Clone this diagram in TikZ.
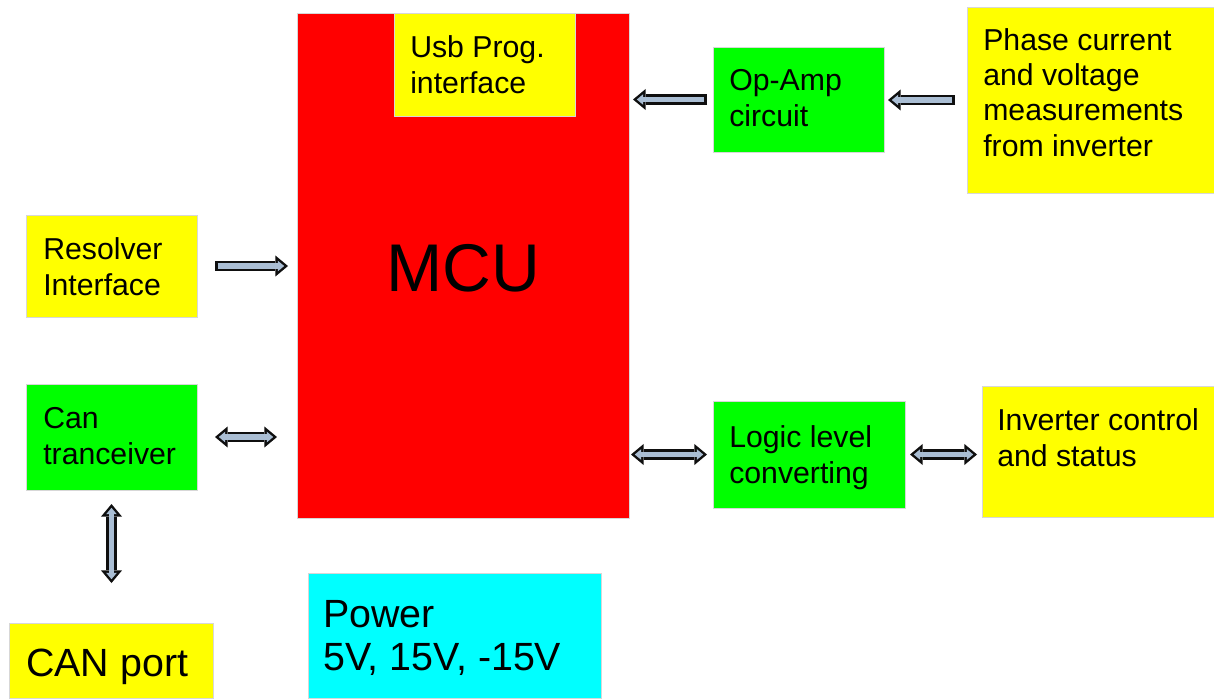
\documentclass[tikz,border=0pt]{standalone}
\usepackage{fontspec}
\setmainfont{Liberation Sans}
\usetikzlibrary{arrows.meta,fit}
\definecolor{cred}{RGB}{255,0,0}
\definecolor{cyel}{RGB}{255,255,0}
\definecolor{cgrn}{RGB}{0,255,0}
\definecolor{ccyan}{RGB}{0,255,255}
\definecolor{cedge}{RGB}{215,215,215}
\definecolor{arrline}{RGB}{15,15,15}
\definecolor{arrfill}{RGB}{170,190,212}
\tikzset{
  box/.style={draw=cedge, line width=0.6pt, inner sep=0pt, outer sep=0pt},
  txt/.style={font=\fontsize{21.5}{25.8}\selectfont, anchor=base west, inner sep=0pt},
  bigtxt/.style={font=\fontsize{28}{31.2}\selectfont, anchor=base west, inner sep=0pt},
  otip/.tip={Triangle[length=9pt,width=15pt,line width=0pt]},
  itip/.tip={Triangle[length=4.5pt,width=7.5pt,line width=0pt]},
  oneway/.style 2 args={
    preaction={draw=arrline, line width=7.6pt, -otip,
      shorten <=#1, shorten >=#2},
    draw=arrfill, line width=4pt, -itip,
    shorten <=#1+1.8pt, shorten >=#2+2.7pt},
  twoway/.style 2 args={
    preaction={draw=arrline, line width=7.6pt, otip-otip,
      shorten <=#1, shorten >=#2},
    draw=arrfill, line width=4pt, itip-itip,
    shorten <=#1+2.7pt, shorten >=#2+2.7pt},
}
\begin{document}
\begin{tikzpicture}[x=0.025cm,y=-0.025cm]
\useasboundingbox[fill=white] (0,0) rectangle (1214,698);
% boxes
\node[box, fill=cred, fit={(297,13)(629,518)}] (mcu) {};
\node[box, fill=cyel, fit={(394,13)(575,116)}] (usb) {};
\node[box, fill=cgrn, fit={(713,47)(884,152)}] (opamp) {};
\node[box, fill=cyel, fit={(967,7)(1214,193)}] (phase) {};
\node[box, fill=cyel, fit={(26,215)(197,317)}] (res) {};
\node[box, fill=cgrn, fit={(26,384)(197,490)}] (can) {};
\node[box, fill=cgrn, fit={(713,401)(905,508)}] (logic) {};
\node[box, fill=cyel, fit={(982,386)(1214,517)}] (inv) {};
\node[box, fill=cyel, fit={(9,623)(213,698)}] (canport) {};
\node[box, fill=ccyan, fit={(308,573)(601,698)}] (power) {};
% texts
\node[font=\fontsize{48}{56}\selectfont, anchor=base, inner sep=0pt] (mcut) at (463,291) {MCU};
\node[txt] (usbt) at (410,57) {\vtop{\hbox{Usb Prog.}\hbox{interface}}};
\node[txt] (opampt) at (729,90) {\vtop{\hbox{Op-Amp}\hbox{circuit}}};
\node[txt, font=\fontsize{21.5}{25.2}\selectfont] (phaset) at (983,50) {\vtop{\hbox{Phase current}\hbox{and voltage}\hbox{measurements}\hbox{from inverter}}};
\node[txt] (rest) at (43,259) {\vtop{\hbox{Resolver}\hbox{Interface}}};
\node[txt] (cant) at (43,428) {\vtop{\hbox{Can}\hbox{tranceiver}}};
\node[txt] (logict) at (729,447) {\vtop{\hbox{Logic level}\hbox{converting}}};
\node[txt] (invt) at (997,430) {\vtop{\hbox{Inverter control}\hbox{and status}}};
\node[bigtxt] (canportt) at (26,676) {CAN port};
\node[bigtxt] (powert) at (323,627) {\vtop{\hbox{Power}\hbox{5V, 15V, -15V}}};
% connectors
\draw[oneway={0.45cm}{0.225cm}] (res.east) -- (res.east -| mcu.west);
\draw[twoway={0.45cm}{0.5cm}] (can.east) -- (can.east -| mcu.west);
\draw[oneway={0.15cm}{0.1cm}] (opamp.west) -- (opamp.west -| mcu.east);
\draw[oneway={0.3cm}{0.1cm}] (phase.west) -- (phase.west -| opamp.east);
\draw[twoway={0.05cm}{0.15cm}] (logic.west -| mcu.east) -- (logic.west);
\draw[twoway={0.125cm}{0.125cm}] (logic.east) -- (logic.east -| inv.west);
\draw[twoway={0.35cm}{1.0cm}] (can.south) -- (can.south |- canport.north);
\end{tikzpicture}
\end{document}
